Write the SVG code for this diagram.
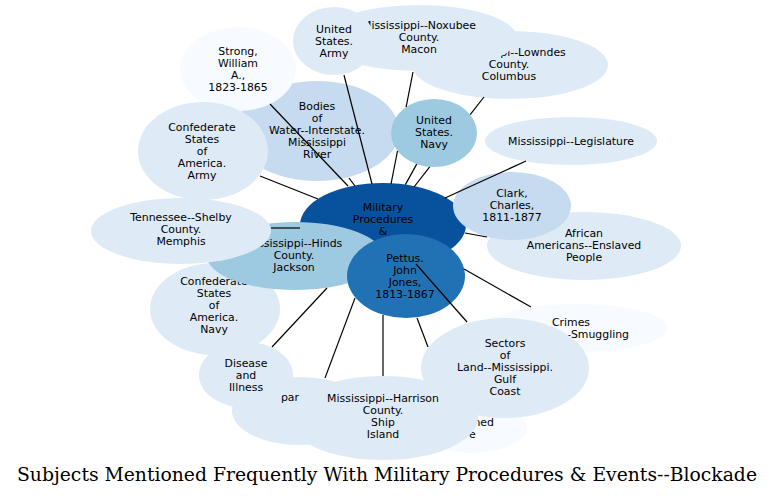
<svg xmlns="http://www.w3.org/2000/svg" width="773" height="496" viewBox="0 0 773 496">
<style>
text{font-family:"DejaVu Sans","Liberation Sans",sans-serif;font-size:10.9px;text-anchor:middle;fill:#000}
.c0{fill:#f7fbff}.c1{fill:#deebf7}.c2{fill:#c6dbef}.c3{fill:#9ecae1}.c6{fill:#2171b5}.c7{fill:#08519c}
.e line{stroke:#000;stroke-width:1.2}
.t{font-family:"DejaVu Serif","Liberation Serif",serif;font-size:18.5px}
</style>
<rect width="773" height="496" fill="#fff"/>
<g id="lowndes"><ellipse class="c1" cx="510" cy="65" rx="98" ry="34"/><text x="509" y="56">Mississippi--Lowndes</text><text x="509" y="68">County.</text><text x="509" y="80">Columbus</text></g>
<g id="noxubee"><ellipse class="c1" cx="419" cy="38" rx="98" ry="33"/><text x="419" y="29">Mississippi--Noxubee</text><text x="419" y="41">County.</text><text x="419" y="53">Macon</text></g>
<g id="usarmy"><ellipse class="c1" cx="334" cy="41" rx="41" ry="34"/><text x="334" y="33">United</text><text x="334" y="45">States.</text><text x="334" y="57">Army</text></g>
<g id="bodies"><ellipse class="c2" cx="317" cy="131" rx="82" ry="50"/><text x="317" y="110">Bodies</text><text x="317" y="122">of</text><text x="317" y="134">Water--Interstate.</text><text x="317" y="146">Mississippi</text><text x="317" y="158">River</text></g>
<g id="strong"><ellipse class="c0" cx="238" cy="69" rx="58" ry="42"/><text x="238" y="55">Strong,</text><text x="238" y="67">William</text><text x="238" y="79">A.,</text><text x="238" y="91">1823-1865</text></g>
<g id="csaarmy"><ellipse class="c1" cx="203" cy="151" rx="65" ry="49"/><text x="202" y="131">Confederate</text><text x="202" y="143">States</text><text x="202" y="155">of</text><text x="202" y="167">America.</text><text x="202" y="179">Army</text></g>
<g id="usnavy"><ellipse class="c3" cx="434" cy="133" rx="43" ry="34"/><text x="434" y="124">United</text><text x="434" y="136">States.</text><text x="434" y="148">Navy</text></g>
<g id="legislature"><ellipse class="c1" cx="571" cy="141" rx="86" ry="24"/><text x="571" y="145">Mississippi--Legislature</text></g>
<g id="center"><ellipse class="c7" cx="383" cy="225" rx="83" ry="42"/><text x="383" y="211">Military</text><text x="383" y="223">Procedures</text><text x="383" y="235">&amp;</text></g>
<g id="csanavy"><ellipse class="c1" cx="215" cy="309" rx="65" ry="46"/><text x="214" y="285">Confederate</text><text x="214" y="297">States</text><text x="214" y="309">of</text><text x="214" y="321">America.</text><text x="214" y="333">Navy</text></g>
<g id="hinds"><ellipse class="c3" cx="295" cy="256" rx="88" ry="34"/><text x="294" y="247">Mississippi--Hinds</text><text x="294" y="259">County.</text><text x="294" y="271">Jackson</text></g>
<g id="tennessee"><ellipse class="c1" cx="181" cy="231" rx="90" ry="33"/><text x="181" y="221">Tennessee--Shelby</text><text x="181" y="233">County.</text><text x="181" y="245">Memphis</text></g>
<g id="african"><ellipse class="c1" cx="584" cy="246" rx="97" ry="34"/><text x="584" y="237">African</text><text x="584" y="249">Americans--Enslaved</text><text x="584" y="261">People</text></g>
<g id="clark"><ellipse class="c2" cx="512" cy="206" rx="59" ry="34"/><text x="512" y="197">Clark,</text><text x="512" y="209">Charles,</text><text x="512" y="221">1811-1877</text></g>
<g id="pettus"><ellipse class="c6" cx="406" cy="276" rx="59" ry="42"/><text x="405" y="262">Pettus.</text><text x="405" y="274">John</text><text x="405" y="286">Jones,</text><text x="405" y="298">1813-1867</text></g>
<g id="crimes"><ellipse class="c0" cx="576" cy="328" rx="92" ry="24"/><text x="571" y="326">Crimes</text><text x="629" y="338" style="text-anchor:end">--Smuggling</text></g>
<g id="ned"><ellipse class="c0" cx="470" cy="428" rx="57" ry="25"/><text x="494" y="426" style="text-anchor:end">ned</text><text x="469" y="438" style="text-anchor:start">e</text></g>
<g id="sectors"><ellipse class="c1" cx="505" cy="368" rx="84" ry="50"/><text x="505" y="347">Sectors</text><text x="505" y="359">of</text><text x="505" y="371">Land--Mississippi.</text><text x="505" y="383">Gulf</text><text x="505" y="395">Coast</text></g>
<g id="par"><ellipse class="c1" cx="300" cy="411" rx="68" ry="34"/><text x="290" y="401">par</text></g>
<g id="disease"><ellipse class="c1" cx="246" cy="375" rx="47" ry="33"/><text x="246" y="367">Disease</text><text x="246" y="379">and</text><text x="246" y="391">Illness</text></g>
<g id="harrison"><ellipse class="c1" cx="383" cy="418" rx="95" ry="42"/><text x="383" y="402">Mississippi--Harrison</text><text x="383" y="414">County.</text><text x="383" y="426">Ship</text><text x="383" y="438">Island</text></g>
<g id="connectors" class="e">
<line x1="270" y1="104" x2="348" y2="186"/>
<line x1="349" y1="178" x2="355" y2="186"/>
<line x1="344" y1="75" x2="372" y2="184"/>
<line x1="413" y1="72" x2="406.1" y2="107.1"/>
<line x1="397.5" y1="151" x2="391" y2="184"/>
<line x1="484" y1="97" x2="470.2" y2="114.7"/>
<line x1="429.7" y1="166.8" x2="414" y2="187"/>
<line x1="416.7" y1="164.1" x2="405.4" y2="184.6"/>
<line x1="260" y1="176" x2="318" y2="199"/>
<line x1="271" y1="228" x2="300" y2="228"/>
<line x1="526" y1="161" x2="445" y2="198"/>
<line x1="465" y1="233" x2="487" y2="237"/>
<line x1="464" y1="269" x2="531" y2="307"/>
<line x1="416" y1="264" x2="467" y2="322"/>
<line x1="417" y1="318" x2="428" y2="347"/>
<line x1="383" y1="315" x2="383" y2="376"/>
<line x1="355" y1="298" x2="325" y2="378"/>
<line x1="327" y1="288" x2="272" y2="347"/>
</g>
<text class="t" x="387" y="481" textLength="740" lengthAdjust="spacingAndGlyphs">Subjects Mentioned Frequently With Military Procedures &amp; Events--Blockade</text>
</svg>
